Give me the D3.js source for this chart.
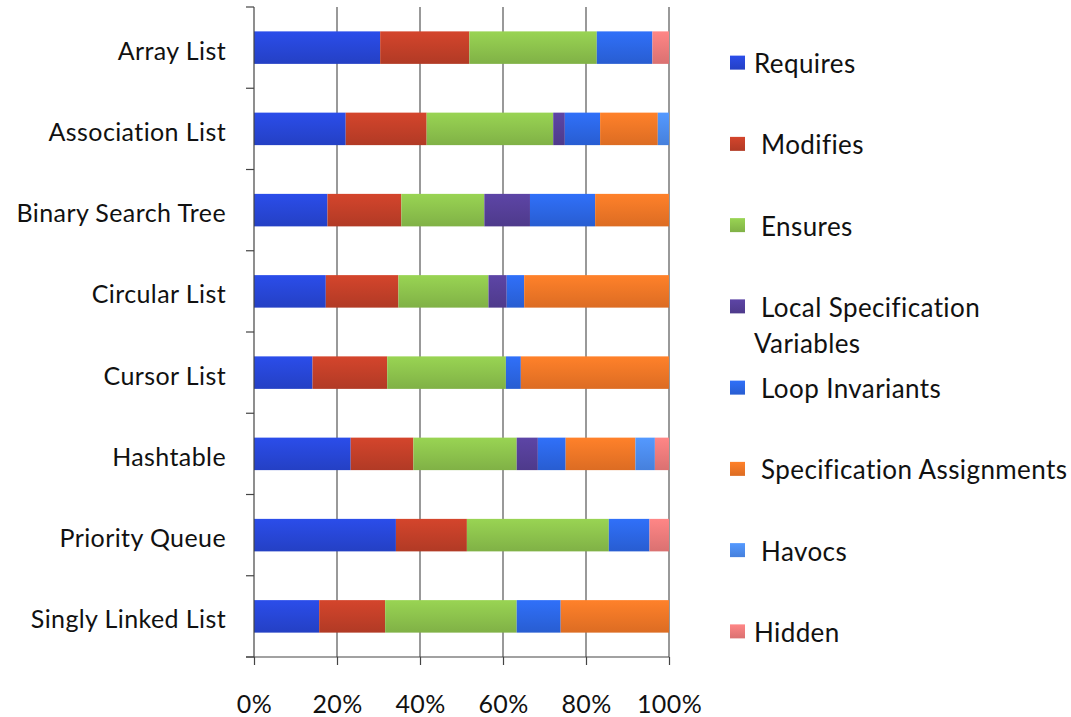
<!DOCTYPE html>
<html>
<head>
<meta charset="utf-8">
<script src="https://cdn.jsdelivr.net/npm/d3@7"></script>
<style>
  html, body { margin: 0; padding: 0; background: #fff; }
  svg { display: block; }
  text { font-family: Lato, "Open Sans", sans-serif; fill: #111; letter-spacing: 0.4px; }
</style>
</head>
<body>
<svg id="chart" width="1071" height="717"></svg>
<script>
// Data structures examined
const categories = [
  "Array List", "Association List", "Binary Search Tree", "Circular List",
  "Cursor List", "Hashtable", "Priority Queue", "Singly Linked List"
];

// Share of annotations per kind (percent of each structure's total)
const requires   = [30.4, 22.1, 17.7, 17.3, 14.1, 23.3, 34.2, 15.7];
const modifies   = [21.5, 19.5, 17.8, 17.5, 18.0, 15.1, 17.1, 15.9];
const ensures    = [30.7, 30.5, 20.0, 21.7, 28.6, 24.9, 34.2, 31.7];
const localSpec  = [0.0,  2.8, 11.0,  4.4,  0.0,  5.1,  0.0,  0.0];
const loopInv    = [13.4, 8.5, 15.7,  4.2,  3.6,  6.7,  9.8, 10.6];
const specAssign = [0.0, 13.9, 17.8, 34.9, 35.7, 16.8,  0.0, 26.1];
const havocs     = [0.0,  2.7,  0.0,  0.0,  0.0,  4.7,  0.0,  0.0];
const hidden     = [4.0,  0.0,  0.0,  0.0,  0.0,  3.4,  4.7,  0.0];

const seriesKeys = ["Requires", "Modifies", "Ensures", "Local Specification Variables",
  "Loop Invariants", "Specification Assignments", "Havocs", "Hidden"];
const seriesValues = [requires, modifies, ensures, localSpec, loopInv, specAssign, havocs, hidden];
// Legend text lines (some entries carry a leading space, as typed in the source chart)
const legendLines = [["Requires"], [" Modifies"], [" Ensures"], [" Local Specification", "Variables"],
  [" Loop Invariants"], [" Specification Assignments"], [" Havocs"], ["Hidden"]];
const xTicks = [0, 0.2, 0.4, 0.6, 0.8, 1.0];

const colors = ["#2746d6", "#c23f28", "#8cc24c", "#553f98", "#2c66e4", "#f07626", "#4d8cf0", "#ee7b7b"];

const rows = categories.map((c, i) => {
  const r = { category: c };
  seriesKeys.forEach((k, j) => r[k] = seriesValues[j][i]);
  return r;
});

const svg = d3.select("#chart");
const plot = { left: 254, right: 669, top: 7, bottom: 657 };

const x = d3.scaleLinear().domain([0, 1]).range([plot.left, plot.right]);
const y = d3.scaleBand().domain(categories).range([plot.top, plot.bottom])
  .paddingInner(0.6).paddingOuter(0.3);

const stacked = d3.stack().keys(seriesKeys).offset(d3.stackOffsetExpand)(rows);

// Gradients: slightly lighter at the top of each bar
const defs = svg.append("defs");
colors.forEach((c, i) => {
  const g = defs.append("linearGradient").attr("id", "grad" + i)
    .attr("x1", 0).attr("y1", 0).attr("x2", 0).attr("y2", 1);
  g.append("stop").attr("offset", "0%").attr("stop-color", d3.color(c).brighter(0.25));
  g.append("stop").attr("offset", "100%").attr("stop-color", d3.color(c).darker(0.25));
});

// Vertical grid lines
svg.append("g").selectAll("line").data(xTicks.slice(1)).join("line")
  .attr("x1", d => x(d)).attr("x2", d => x(d))
  .attr("y1", plot.top).attr("y2", plot.bottom)
  .attr("stroke", "#555").attr("stroke-width", 1.2);

// Bars
svg.append("g").selectAll("g").data(stacked).join("g")
  .attr("fill", (d, i) => `url(#grad${i})`)
  .selectAll("rect").data(d => d).join("rect")
  .attr("x", d => x(d[0]))
  .attr("width", d => Math.max(0, x(d[1]) - x(d[0])))
  .attr("y", d => y(d.data.category))
  .attr("height", y.bandwidth());

// Bottom axis
const xAxis = svg.append("g").attr("transform", `translate(0,${plot.bottom})`)
  .call(d3.axisBottom(x).tickValues(xTicks).tickFormat(d3.format(".0%")).tickSize(8).tickPadding(30))
  .call(g => g.select(".domain").remove());
xAxis.selectAll(".tick line").attr("stroke", "#444").attr("stroke-width", 1.2);
xAxis.selectAll("text").attr("font-size", 25).attr("fill", "#111")
  .style("font-family", "Lato, 'Open Sans', sans-serif");
svg.append("line").attr("x1", plot.left - 8).attr("x2", plot.right)
  .attr("y1", plot.bottom).attr("y2", plot.bottom).attr("stroke", "#444").attr("stroke-width", 1.2);

// Left axis with ticks between categories
svg.append("line").attr("x1", plot.left).attr("x2", plot.left)
  .attr("y1", plot.top).attr("y2", plot.bottom).attr("stroke", "#444").attr("stroke-width", 1.2);
const bounds = d3.range(categories.length + 1).map(i => plot.top + i * y.step());
svg.append("g").selectAll("line").data(bounds).join("line")
  .attr("x1", plot.left - 8).attr("x2", plot.left)
  .attr("y1", d => d).attr("y2", d => d)
  .attr("stroke", "#444").attr("stroke-width", 1.2);

svg.append("g").selectAll("text").data(categories).join("text")
  .attr("x", plot.left - 28)
  .attr("y", d => y(d) + y.bandwidth() / 2 + 3)
  .attr("dy", "0.36em")
  .attr("text-anchor", "end")
  .attr("font-size", 25)
  .text(d => d);

// Legend
const legY = i => plot.top + y.step() * (i + 0.5) + 16;
const leg = svg.append("g").selectAll("g").data(seriesKeys).join("g")
  .attr("transform", (d, i) => `translate(730,${legY(i)})`);
leg.append("rect").attr("x", 0).attr("y", -8).attr("width", 15).attr("height", 14)
  .attr("fill", (d, i) => `url(#grad${i})`);
leg.each(function (d, i) {
  const t = d3.select(this).append("text")
    .attr("font-size", 26)
    .style("white-space", "pre");
  legendLines[i].forEach((line, k) => {
    t.append("tspan").attr("x", 24).attr("y", k * 36).attr("dy", "0.36em").text(line);
  });
});
</script>
</body>
</html>
